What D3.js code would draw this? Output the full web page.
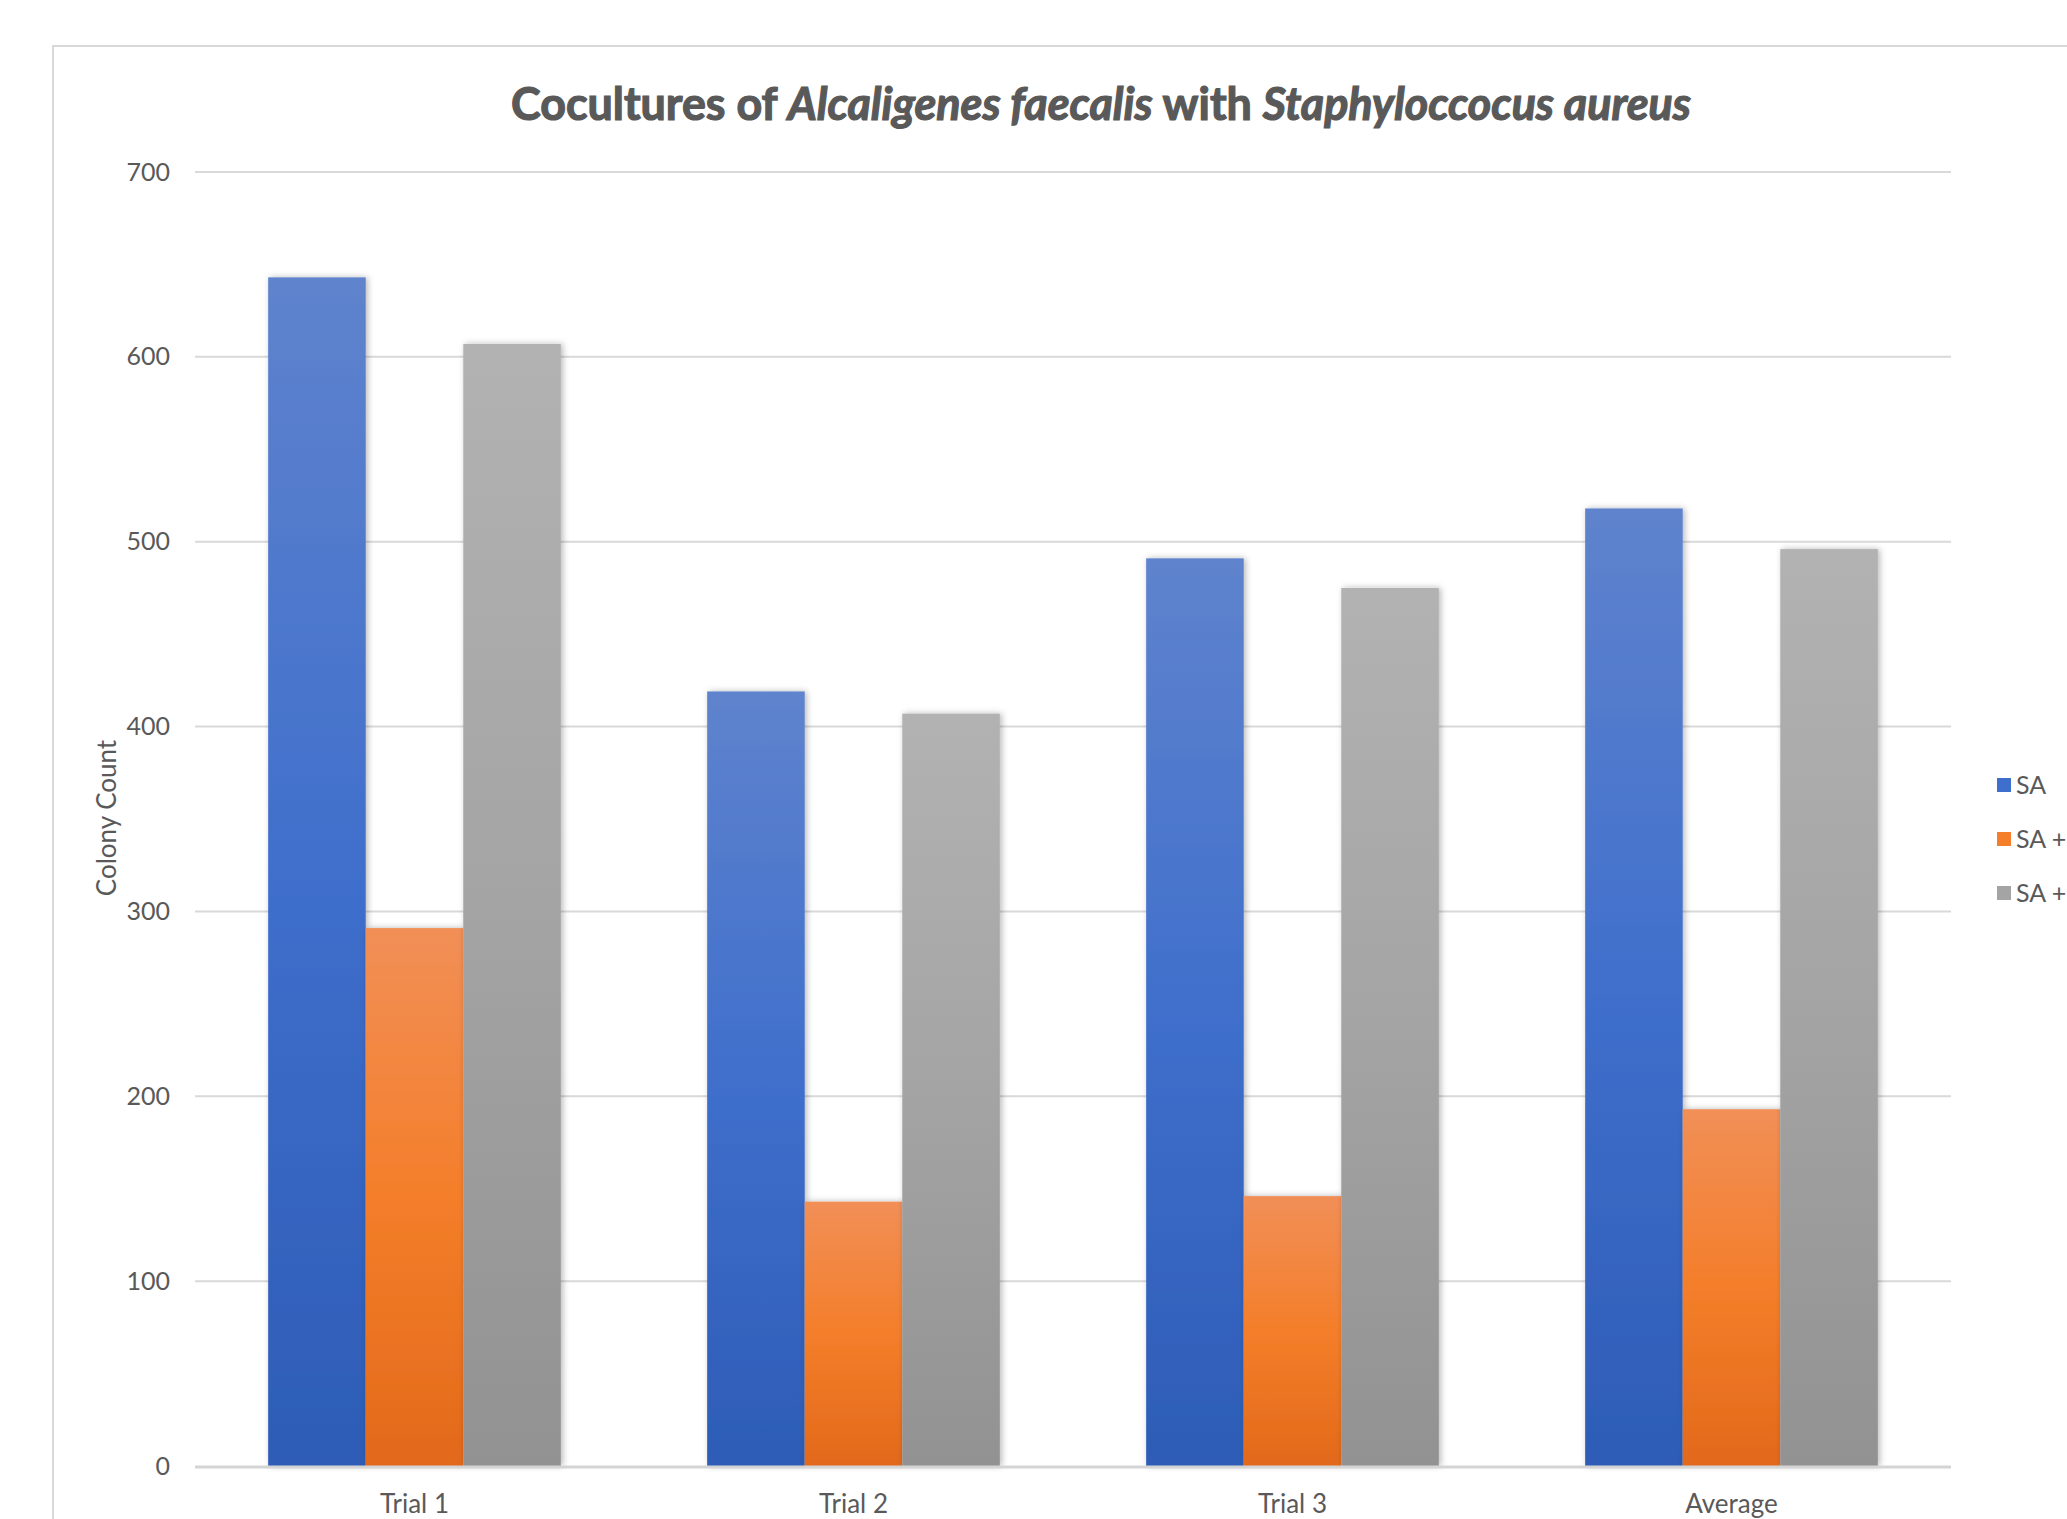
<!DOCTYPE html>
<html>
<head>
<meta charset="utf-8">
<script src="https://cdn.jsdelivr.net/npm/d3@7"></script>
<style>
    html, body { margin: 0; padding: 0; background: #fff; overflow: hidden; }
    text { font-family: Lato, "Open Sans", sans-serif; fill: #595959; }
</style>
</head>
<body>
<div id="chart"></div>
<script>
"use strict";

// Chart data
const categories = ["Trial 1", "Trial 2", "Trial 3", "Average"];
const seriesNames = ["SA", "SA +", "SA + "];
const legendLabels = ["SA", "SA +", "SA +"];
const saValues = [643, 419, 491, 518];
const saPlusValues = [291, 143, 146, 193];
const saPlus2Values = [607, 407, 475, 496];
const yTicks = [0, 100, 200, 300, 400, 500, 600, 700];

const seriesValues = [saValues, saPlusValues, saPlus2Values];

// Gradient stops per series (top, middle, bottom)
const gradients = [
    ["#5f83cd", "#3f6fcc", "#2d5cb6"],
    ["#f18f57", "#f47e2a", "#e2691a"],
    ["#b2b2b2", "#a4a4a4", "#929292"],
];

const WIDTH = 2067;
const HEIGHT = 1519;
const LEFT = 195, RIGHT = 1951, TOP = 172, BOTTOM = 1466;

const svg = d3.select("#chart")
  .append("svg")
    .attr("width", WIDTH)
    .attr("height", HEIGHT);

const defs = svg.append("defs");

gradients.forEach((stops, i) => {
    const g = defs.append("linearGradient")
        .attr("id", `grad${i}`)
        .attr("x1", 0).attr("y1", 0)
        .attr("x2", 0).attr("y2", 1);
    stops.forEach((c, j) => {
        g.append("stop")
            .attr("offset", j / (stops.length - 1))
            .attr("stop-color", c);
    });
});

defs.append("filter")
    .attr("id", "shadow")
    .attr("x", "-20%").attr("y", "-5%")
    .attr("width", "140%").attr("height", "110%")
  .append("feDropShadow")
    .attr("dx", 2).attr("dy", 0)
    .attr("stdDeviation", 3)
    .attr("flood-color", "#000")
    .attr("flood-opacity", 0.28);

// Chart frame (left and top edges visible)
svg.append("path")
    .attr("d", `M53,${HEIGHT + 5}V46H${WIDTH + 5}`)
    .attr("fill", "none")
    .attr("stroke", "#d9d9d9")
    .attr("stroke-width", 2);

// Scales
const x = d3.scaleBand()
    .domain(categories)
    .range([LEFT, RIGHT])
    .paddingInner(1 / 3)
    .paddingOuter(1 / 6);

const xs = d3.scaleBand()
    .domain(seriesNames)
    .range([0, x.bandwidth()]);

const y = d3.scaleLinear()
    .domain([0, 700])
    .range([BOTTOM, TOP]);

// Gridlines
svg.append("g")
  .selectAll("line")
  .data(yTicks.filter(d => d > 0))
  .join("line")
    .attr("x1", LEFT).attr("x2", RIGHT)
    .attr("y1", d => y(d)).attr("y2", d => y(d))
    .attr("stroke", "#d9d9d9")
    .attr("stroke-width", 2);

// Y axis labels
const yAxis = svg.append("g")
    .attr("transform", `translate(${LEFT},0)`)
    .call(d3.axisLeft(y).tickValues(yTicks).tickSize(0).tickPadding(25));
yAxis.select(".domain").remove();
yAxis.selectAll("text")
    .attr("font-size", 25)
    .attr("fill", "#595959")
    .style("font-family", "Lato, 'Open Sans', sans-serif");

// Bars
const groups = svg.append("g")
  .selectAll("g")
  .data(categories)
  .join("g")
    .attr("transform", d => `translate(${x(d)},0)`);

groups.selectAll("rect")
  .data((d, ci) => seriesNames.map((s, si) => ({ s, si, v: seriesValues[si][ci] })))
  .join("rect")
    .attr("x", d => xs(d.s))
    .attr("y", d => y(d.v))
    .attr("width", xs.bandwidth())
    .attr("height", d => y(0) - y(d.v))
    .attr("fill", d => `url(#grad${d.si})`)
    .attr("filter", "url(#shadow)");

// X axis line and labels
svg.append("line")
    .attr("x1", LEFT).attr("x2", RIGHT)
    .attr("y1", y(0) + 1).attr("y2", y(0) + 1)
    .attr("stroke", "#d4d4d4")
    .attr("stroke-width", 3);

const xAxis = svg.append("g")
    .attr("transform", `translate(0,${y(0)})`)
    .call(d3.axisBottom(x).tickSize(0).tickPadding(29));
xAxis.select(".domain").remove();
xAxis.selectAll("text")
    .attr("font-size", 26)
    .attr("fill", "#595959")
    .style("font-family", "Lato, 'Open Sans', sans-serif");

// Y axis title
svg.append("text")
    .attr("transform", "translate(116,818) rotate(-90)")
    .attr("text-anchor", "middle")
    .attr("font-size", 26)
    .text("Colony Count");

// Chart title
const title = svg.append("text")
    .attr("x", 1101)
    .attr("y", 120)
    .attr("text-anchor", "middle")
    .attr("font-size", 45)
    .attr("font-weight", "bold")
    .attr("stroke", "#595959")
    .attr("stroke-width", 1.2)
    .attr("textLength", 1180)
    .attr("lengthAdjust", "spacingAndGlyphs");
[
    ["Cocultures of ", "normal"],
    ["Alcaligenes faecalis", "italic"],
    [" with ", "normal"],
    ["Staphyloccocus aureus", "italic"],
].forEach(([t, style]) => {
    title.append("tspan")
        .attr("font-style", style)
        .text(t);
});

// Legend
const legend = svg.append("g")
  .selectAll("g")
  .data(legendLabels)
  .join("g")
    .attr("transform", (d, i) => `translate(1997,${785 + i * 54})`);

legend.append("rect")
    .attr("x", 0).attr("y", -7)
    .attr("width", 14).attr("height", 14)
    .attr("fill", (d, i) => gradients[i][1]);

legend.append("text")
    .attr("x", 19)
    .attr("y", 9)
    .attr("font-size", 25)
    .text(d => d);
</script>
</body>
</html>
